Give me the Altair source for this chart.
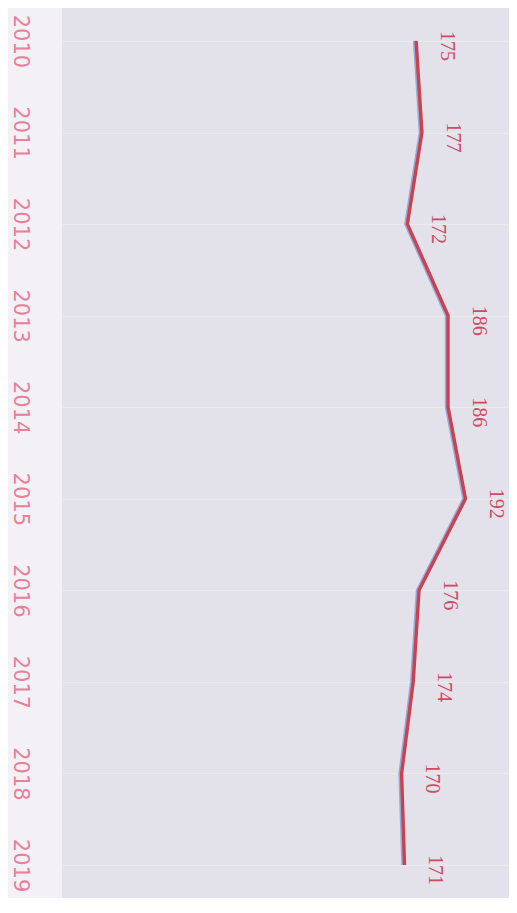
import altair as alt
import pandas as pd

years = ["2010", "2011", "2012", "2013", "2014", "2015", "2016", "2017", "2018", "2019"]
values = [175, 177, 172, 186, 186, 192, 176, 174, 170, 171]

df = pd.DataFrame({"year": years, "value": values})

y_enc = alt.Y("year:O", sort=years,
              scale=alt.Scale(type="point", padding=0.36),
              axis=alt.Axis(title=None, labelAngle=90, labelAlign="center",
                            labelBaseline="middle", labelPadding=43, ticks=False,
                            domain=False, labelFont="DejaVu Sans", labelFontSize=21,
                            labelColor="#e8809a", grid=True, gridColor="#ffffff",
                            gridOpacity=0.3, gridWidth=1.5))
x_scale = alt.Scale(domain=[53, 207], zero=False, nice=False)

base = alt.Chart(df)

shadow = base.transform_calculate(sv="datum.value - 0.6").mark_line(
    color="#7f9bd8", strokeWidth=3, opacity=0.8
).encode(x=alt.X("sv:Q", scale=x_scale, axis=None), y=y_enc)

line = base.mark_line(color="#c8434f", strokeWidth=3.4).encode(
    x=alt.X("value:Q", scale=x_scale, axis=None), y=y_enc)

labels = base.transform_calculate(lv="datum.value + 10.6").mark_text(
    angle=90, align="center", baseline="middle", dx=5,
    font="Liberation Serif", fontSize=20, color="#cf4a63"
).encode(x=alt.X("lv:Q", scale=x_scale, axis=None), y=y_enc,
         text=alt.Text("value:Q"))

chart = alt.layer(shadow, line, labels).properties(
    width=447, height=890,
    autosize=alt.AutoSizeParams(type="none"),
    padding={"left": 54, "top": 0, "right": 0, "bottom": 0},
    background="#f3f1f5",
).configure_view(fill="#e3e1e9", stroke=None)

chart.save("out.html", embed_options={"renderer": "svg", "actions": False})
